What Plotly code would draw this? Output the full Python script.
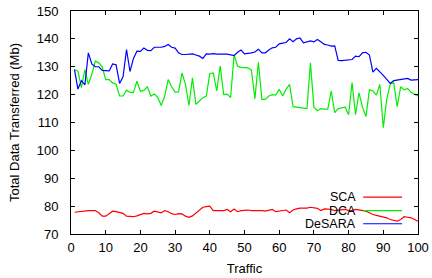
import plotly.graph_objects as go

traffic = list(range(1, 101))

sca = [77.8, 78.0, 78.2, 78.3, 78.4, 78.4, 78.4, 77.6, 76.4, 76.4,
       77.3, 78.2, 78.0, 77.8, 77.4, 76.4, 76.2, 76.2, 76.5, 77.0,
       77.4, 77.2, 77.4, 78.2, 78.0, 77.6, 78.4, 78.0, 77.3, 77.0,
       77.3, 77.2, 76.4, 76.0, 76.5, 77.5, 78.8, 79.6, 79.8, 80.0,
       78.4, 78.4, 78.4, 78.4, 78.8, 78.0, 79.0, 78.0, 78.4, 78.6,
       78.6, 78.4, 78.4, 78.6, 78.4, 78.2, 78.6, 78.8, 78.0, 78.2,
       78.4, 78.6, 77.6, 78.6, 79.0, 79.3, 79.3, 79.3, 79.6, 79.4,
       79.2, 78.4, 79.0, 78.9, 78.8, 78.4, 78.5, 78.6, 78.8, 78.4,
       78.4, 78.8, 78.6, 78.4, 78.2, 77.6, 77.0, 76.7, 76.4, 76.2,
       75.8, 75.2, 74.8, 74.6, 75.2, 76.2, 76.0, 75.8, 75.2, 74.6]

dca = [129.0, 128.4, 122.5, 129.0, 123.7, 127.3, 132.0, 131.4, 130.0, 125.4,
       125.4, 124.2, 123.7, 119.5, 119.5, 121.6, 120.8, 120.8, 124.8, 121.2,
       121.5, 122.8, 119.5, 120.2, 119.0, 116.1, 119.5, 125.4, 122.8, 120.9,
       121.0, 127.8, 123.6, 116.1, 126.0, 116.5, 117.7, 118.9, 119.5, 127.6,
       127.8, 121.3, 130.2, 120.0, 120.2, 118.9, 134.4, 130.2, 129.8, 129.6,
       129.6, 128.8, 118.5, 131.6, 118.3, 118.3, 119.5, 120.0, 119.8, 121.9,
       119.5, 122.0, 123.7, 115.7, 115.5, 115.2, 115.0, 115.0, 131.4, 115.5,
       114.2, 115.0, 114.8, 114.8, 121.3, 113.5, 115.0, 115.2, 115.5, 112.8,
       124.3, 112.8, 120.6, 115.5, 112.1, 121.7, 121.3, 119.8, 123.7, 108.1,
       118.5, 123.7, 124.3, 115.7, 122.8, 121.7, 122.2, 120.8, 120.0, 119.5]

desara = [129.0, 122.0, 125.0, 123.5, 135.0, 131.0, 130.0, 130.0, 128.7, 128.7,
          128.5, 131.0, 130.7, 124.0, 126.4, 136.2, 128.3, 133.0, 135.6, 135.5,
          136.7, 135.9, 135.8, 137.0, 137.0, 137.0, 137.3, 138.0, 137.0, 136.7,
          135.0, 134.4, 134.4, 134.4, 134.6, 134.2, 133.8, 133.0, 134.6, 134.5,
          134.7, 134.5, 134.4, 134.5, 134.5, 134.3, 134.0, 135.2, 136.0, 134.6,
          134.7, 135.0, 135.3, 136.3, 135.0, 135.0, 136.0, 136.8, 137.0, 138.2,
          138.5, 138.7, 140.0, 139.0, 140.0, 140.3, 138.6, 139.0, 139.3, 138.9,
          139.8, 139.0, 138.0, 137.8, 137.4, 137.5, 132.3, 132.2, 132.3, 132.4,
          132.6, 133.8, 133.6, 135.0, 135.2, 134.2, 128.1, 129.4, 128.3, 126.9,
          125.5, 124.0, 125.0, 125.2, 125.2, 125.4, 125.8, 125.2, 125.4, 125.4]

names = ["SCA", "DCA", "DeSARA"]
colors = ["#ff0000", "#00ee00", "#0000ff"]
series = [sca, dca, desara]

x_ticks = [0, 10, 20, 30, 40, 50, 60, 70, 80, 90, 100]
y_ticks = [70, 80, 90, 100, 110, 120, 130, 140, 150]

fig = go.Figure()
for name, col, vals in zip(names, colors, series):
    fig.add_trace(go.Scatter(x=traffic, y=vals, mode="lines", name=name,
                             line=dict(color=col, width=1.2), showlegend=False))

font = dict(family="Liberation Sans, Arial, sans-serif", size=13, color="black")
leg_font = dict(family="Liberation Sans, Arial, sans-serif", size=12.5, color="black")

# manual gnuplot-style legend (text right-aligned, sample line on the right)
leg_y = [0.165, 0.105, 0.046]
for name, col, ly in zip(names, colors, leg_y):
    fig.add_annotation(xref="paper", yref="paper", x=0.825, y=ly, text=name,
                       showarrow=False, xanchor="right", yanchor="middle",
                       font=leg_font, borderpad=0)
    fig.add_shape(type="line", xref="paper", yref="paper", x0=0.842, x1=0.954,
                  y0=ly, y1=ly, line=dict(color=col, width=1.2))

axis_common = dict(showline=True, linecolor="black", linewidth=1, mirror="allticks",
                   ticks="inside", ticklen=4, tickcolor="black", showgrid=False,
                   zeroline=False, tickfont=font, automargin=False)

fig.update_xaxes(range=[0, 100], tickvals=x_ticks,
                 title=dict(text="Traffic", font=font, standoff=10),
                 ticklabelstandoff=1, **axis_common)
fig.update_yaxes(range=[70, 150], tickvals=y_ticks,
                 title=dict(text="Total Data Transferred (Mb)", font=font, standoff=14),
                 ticklabelstandoff=9, **axis_common)

fig.update_layout(width=432, height=278, margin=dict(l=71, r=14, t=11, b=44),
                  paper_bgcolor="white", plot_bgcolor="white", font=font)

fig.write_html("out.html", config={"displayModeBar": False},
               post_script="document.body.style.margin='0px';")
